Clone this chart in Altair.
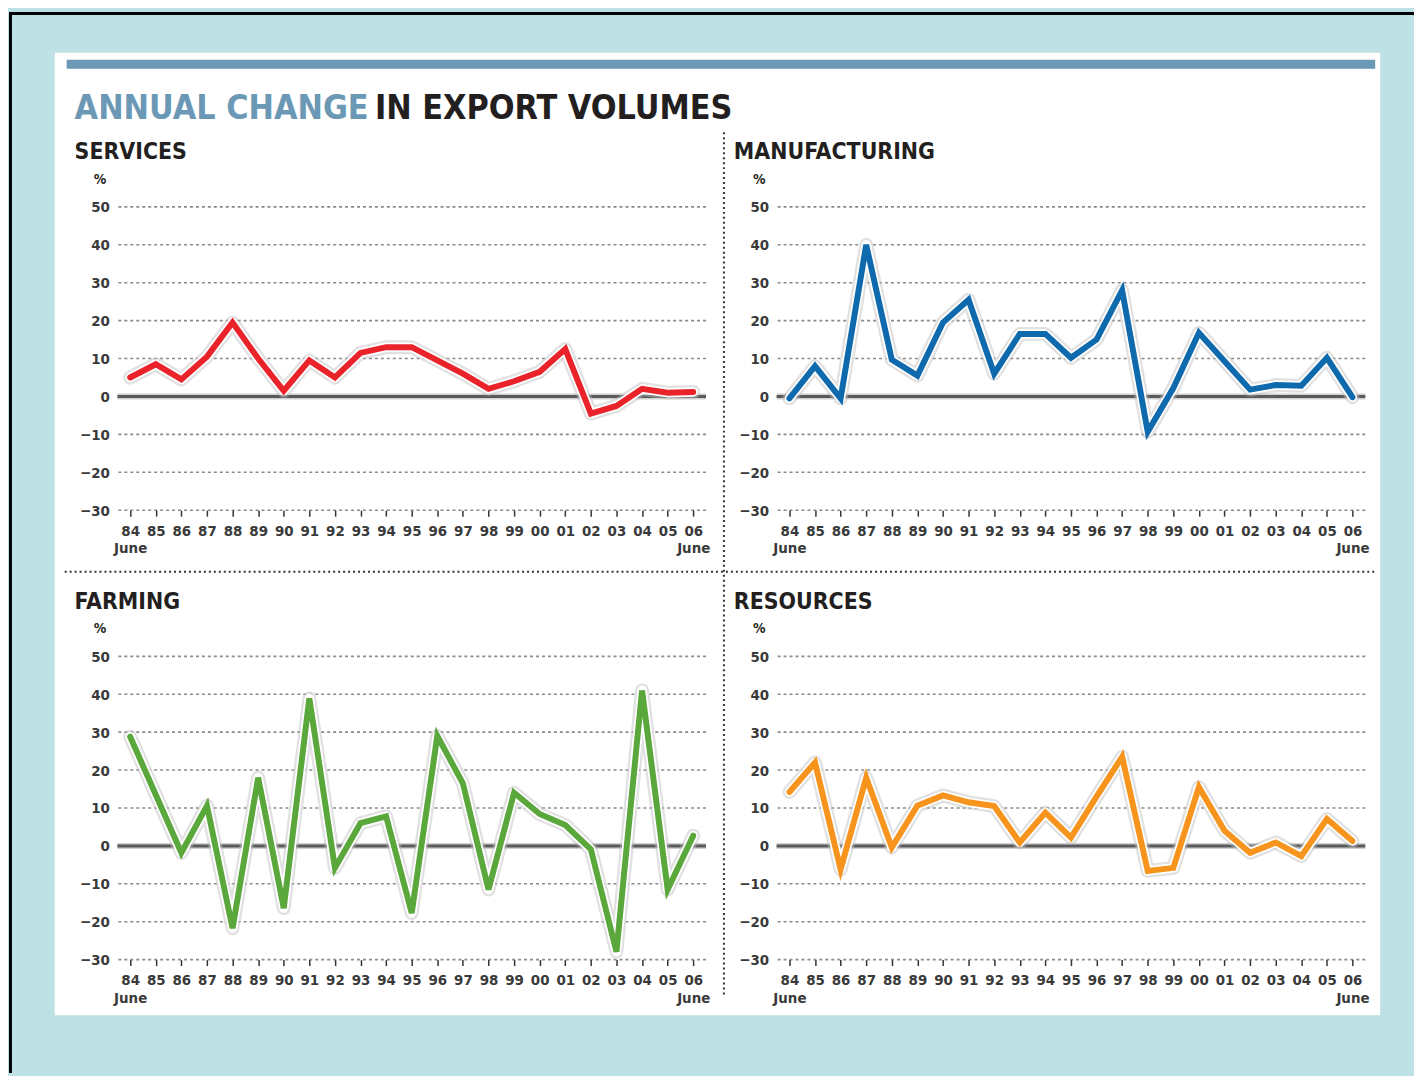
import altair as alt
import pandas as pd

# ---------------- data ----------------
years = ['84', '85', '86', '87', '88', '89', '90', '91', '92', '93', '94', '95',
         '96', '97', '98', '99', '00', '01', '02', '03', '04', '05', '06']
services = [5, 8.5, 4.5, 10.5, 19.5, 10, 1.5, 9.5, 5, 11.5, 13, 13,
            9.5, 6, 2, 4, 6.5, 12.5, -4.5, -2.5, 2, 1, 1.2]
manufacturing = [-0.5, 8, -0.5, 40, 9.7, 5.5, 19.5, 25.5, 6, 16.5, 16.5, 10.2,
                 15, 28, -9.3, 2.2, 16.8, 9.3, 1.8, 3, 2.8, 10.2, -0.2]
farming = [28.8, 13.5, -1.8, 10.6, -21.7, 18, -16.4, 38.9, -5.8, 6, 7.8, -17.7,
           29, 16.5, -11.5, 14, 8.4, 5.5, -0.9, -27.9, 41, -11.5, 2.7]
resources = [14.2, 22, -6.2, 18, -0.4, 10.6, 13.3, 11.5, 10.5, 0.9, 8.8, 2.2,
             13, 23.5, -6.6, -5.8, 15.5, 4, -1.8, 0.9, -2.7, 7.1, 1.3]

panel_names = ['SERVICES', 'MANUFACTURING', 'FARMING', 'RESOURCES']
panel_colors = ['#ea2229', '#0f69ad', '#5aa73c', '#f7941d']
title_parts = ['ANNUAL CHANGE', 'IN EXPORT VOLUMES']
month_label = 'June'
unit_label = '%'
y_ticks = [50, 40, 30, 20, 10, 0, -10, -20, -30]
grid_values = [50, 40, 30, 20, 10, -10, -20, -30]
zero_value = [0]

# ---------------- style ----------------
FONT = "Liberation Sans Narrow, DejaVu Sans Condensed, Arial Narrow, Liberation Sans, sans-serif"
CYAN = '#bde1e4'
STEEL = '#6b98b5'
INK = '#231f20'
W, H = 592, 305

label_expr = (f"(datum.value == '{years[0]}' || datum.value == '{years[-1]}') ? "
              f"[datum.value, '{month_label}'] : datum.value")

x_axis = alt.Axis(title=None, labelAngle=0, labelFont=FONT, labelFontSize=15,
                  labelFontWeight='bold', labelColor='#3a3a3a', ticks=True, tickSize=6,
                  tickColor='#333333', tickWidth=1.5, domain=False, grid=False,
                  labelPadding=7, labelExpr=label_expr, labelLineHeight=18,
                  labelOverlap=False, zindex=1)
y_axis = alt.Axis(values=y_ticks, title=unit_label, titleAngle=0, titleX=-18, titleY=-28,
                  titleFont=FONT, titleFontSize=14, titleFontWeight='bold',
                  titleColor=INK, titleAlign='center', titleBaseline='middle',
                  labelFont=FONT, labelFontSize=15, labelFontWeight='bold',
                  labelColor='#3a3a3a', ticks=False, domain=False, grid=False,
                  labelPadding=8, zindex=1)
y_scale = alt.Scale(domain=[-30, 50], nice=False, zero=False)
x_scale = alt.Scale(type='point', padding=0.5)

dummy = pd.DataFrame({'k': [0]})


def panel(name, values, color, decor=None):
    df = pd.DataFrame({'year': years, 'value': values, 'idx': list(range(len(years)))})
    xenc = alt.X('year:N', sort=None, scale=x_scale, axis=x_axis)
    yenc = alt.Y('value:Q', scale=y_scale, axis=y_axis)
    base = alt.Chart(df)
    grid = alt.Chart(pd.DataFrame({'value': grid_values})).mark_rule(
        color='#8a8a8a', strokeDash=[3, 3], strokeWidth=1.6).encode(y=yenc)
    zero_shadow = alt.Chart(pd.DataFrame({'value': zero_value})).mark_rule(
        color='#d0d0d0', strokeWidth=6).encode(y=yenc)
    zero = alt.Chart(pd.DataFrame({'value': zero_value})).mark_rule(
        color='#5a5a5a', strokeWidth=3).encode(y=yenc)
    halo = base.mark_line(color='#bdbdbd', strokeWidth=14, opacity=0.45,
                          strokeJoin='round', strokeCap='round').encode(
        x=xenc, y=yenc, order='idx:Q')
    white = base.mark_line(color='white', strokeWidth=9.5, strokeJoin='round',
                           strokeCap='round').encode(x=xenc, y=yenc, order='idx:Q')
    line = base.mark_line(color=color, strokeWidth=6, strokeJoin='miter',
                          strokeCap='round').encode(x=xenc, y=yenc, order='idx:Q')
    ptitle = alt.Chart(pd.DataFrame({'t': [name]})).mark_text(
        align='left', baseline='alphabetic', font=FONT, fontSize=23,
        fontWeight='bold', color=INK).encode(text='t:N', x=alt.value(-43), y=alt.value(-48))
    layers = (decor or []) + [ptitle, grid, zero_shadow, zero, halo, white, line]
    return alt.layer(*layers).properties(width=W, height=H)


# decorations (frame, white card, header bar, headline, separators) live in the first panel
frame = alt.Chart(dummy).mark_rect(color=CYAN).encode(
    x=alt.value(-110), x2=alt.value(1304), y=alt.value(-197), y2=alt.value(871))
border_left = alt.Chart(dummy).mark_rect(color='black').encode(
    x=alt.value(-109), x2=alt.value(-106), y=alt.value(-196), y2=alt.value(871))
border_top = alt.Chart(dummy).mark_rect(color='black').encode(
    x=alt.value(-109), x2=alt.value(1304), y=alt.value(-196), y2=alt.value(-193))
card = alt.Chart(dummy).mark_rect(color='white').encode(
    x=alt.value(-63), x2=alt.value(1270), y=alt.value(-155), y2=alt.value(813))
bar = alt.Chart(dummy).mark_rect(color=STEEL).encode(
    x=alt.value(-51), x2=alt.value(1265), y=alt.value(-148), y2=alt.value(-139))
head_blue = alt.Chart(pd.DataFrame({'t': [title_parts[0]]})).mark_text(
    align='left', baseline='alphabetic', font=FONT, fontSize=34, fontWeight='bold',
    color=STEEL).encode(text='t:N', x=alt.value(-43), y=alt.value(-88))
head_black = alt.Chart(pd.DataFrame({'t': [title_parts[1]]})).mark_text(
    align='left', baseline='alphabetic', font=FONT, fontSize=34, fontWeight='bold',
    color=INK).encode(text='t:N', x=alt.value(259), y=alt.value(-88))
sep_v = alt.Chart(dummy).mark_rule(color='#333333', strokeDash=[2, 3], strokeWidth=2).encode(
    x=alt.value(610), y=alt.value(-75), y2=alt.value(795))
sep_h = alt.Chart(dummy).mark_rule(color='#333333', strokeDash=[2, 3], strokeWidth=2).encode(
    y=alt.value(367), x=alt.value(-53), x2=alt.value(1265))

decor = [frame, border_left, border_top, card, bar, head_blue, head_black, sep_v, sep_h]

p1 = panel(panel_names[0], services, panel_colors[0], decor)
p2 = panel(panel_names[1], manufacturing, panel_colors[1])
p3 = panel(panel_names[2], farming, panel_colors[2])
p4 = panel(panel_names[3], resources, panel_colors[3])

chart = alt.concat(p1, p2, p3, p4, columns=2, spacing={'row': 147, 'column': 71},
                   bounds='flush').properties(padding=0, background=CYAN).configure_view(strokeWidth=0)

chart.save("out.html", embed_options={"renderer": "svg", "actions": False})
